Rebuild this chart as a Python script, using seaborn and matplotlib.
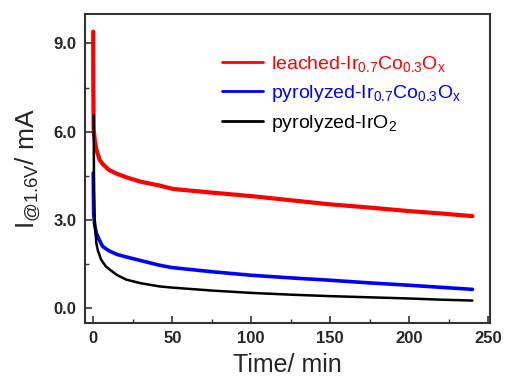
import pandas as pd
import matplotlib.pyplot as plt
import seaborn as sns

# chronoamperometry at 1.6 V
t_red = [0, 0.05, 0.3, 1, 2, 4, 6, 10, 15, 21, 30, 42, 50, 55, 75, 100, 125, 150, 175, 200, 220, 240]
i_red = [9.4, 7.5, 6.1, 5.7, 5.4, 5.05, 4.9, 4.7, 4.57, 4.45, 4.3, 4.17, 4.06, 4.03, 3.93, 3.81,
         3.67, 3.53, 3.42, 3.30, 3.22, 3.13]

t_blue = [0, 0.3, 1, 2, 4, 6, 10, 15, 21, 30, 42, 50, 75, 100, 125, 150, 175, 200, 220, 240]
i_blue = [4.6, 3.2, 2.8, 2.55, 2.3, 2.1, 1.95, 1.83, 1.74, 1.62, 1.46, 1.38, 1.24, 1.12, 1.03,
          0.95, 0.86, 0.78, 0.71, 0.64]

t_black = [0.3, 0.5, 1, 2, 3, 5, 8, 11, 15, 21, 30, 42, 50, 75, 100, 125, 150, 175, 200, 220, 240]
i_black = [6.56, 4.0, 2.9, 2.2, 1.95, 1.65, 1.42, 1.29, 1.13, 0.97, 0.85, 0.74, 0.70, 0.6, 0.52,
           0.46, 0.41, 0.37, 0.33, 0.29, 0.26]

labels = ['leached-Ir$_{0.7}$Co$_{0.3}$O$_x$',
          'pyrolyzed-Ir$_{0.7}$Co$_{0.3}$O$_x$',
          'pyrolyzed-IrO$_2$']
colors = ['#FF0000', '#0000FF', '#000000']
x_ticks = [0, 50, 100, 150, 200, 250]
y_ticks = [0.0, 3.0, 6.0, 9.0]

sns.set_theme(style="ticks")
plt.rcParams['font.family'] = ['Liberation Sans', 'DejaVu Sans']
plt.rcParams['mathtext.default'] = 'regular'

fig = plt.figure(figsize=(5.05, 3.79), dpi=100)
ax = fig.add_axes([0.168, 0.148, 0.802, 0.815])

series = [(t_red, i_red, 3.0), (t_blue, i_blue, 2.6), (t_black, i_black, 1.8)]
for (t, i, lw), lab, c in zip(series, labels, colors):
    df = pd.DataFrame({'t': t, 'i': i})
    sns.lineplot(data=df, x='t', y='i', color=c, linewidth=lw, label=lab,
                 sort=False, estimator=None, ax=ax)

ax.set_xlim(-5.3, 251)
ax.set_ylim(-0.5, 10)
ax.set_xticks(x_ticks)
ax.set_yticks(y_ticks)
ax.set_xticklabels([str(v) for v in x_ticks])
ax.set_yticklabels([f'{v:.1f}' for v in y_ticks])
ax.set_xticks([25, 75, 125, 175, 225], minor=True)
ax.set_yticks([1.5, 4.5, 7.5], minor=True)
ax.tick_params(which='both', direction='in', top=False, right=False, color='#333333')
ax.tick_params(which='major', length=5, width=1.2, labelsize=12, pad=6)
ax.tick_params(which='minor', length=3, width=1.0)
for lbl in ax.get_xticklabels() + ax.get_yticklabels():
    lbl.set_fontweight('bold')
for sp in ax.spines.values():
    sp.set_visible(True)
    sp.set_linewidth(1.5)
    sp.set_color('#333333')

ax.set_xlabel('Time/ min', fontsize=18, labelpad=5)
ax.set_ylabel('I$_{@1.6V}$/ mA', fontsize=19, labelpad=8)

leg = ax.legend(loc='upper left', bbox_to_anchor=(0.32, 0.895), frameon=False,
                fontsize=14, handlelength=2.1, handletextpad=0.4, labelspacing=0.45,
                labelcolor='linecolor', borderaxespad=0)
for h in leg.get_lines():
    h.set_linewidth(2)

fig.savefig('out.png', dpi=100)
plt.close()
